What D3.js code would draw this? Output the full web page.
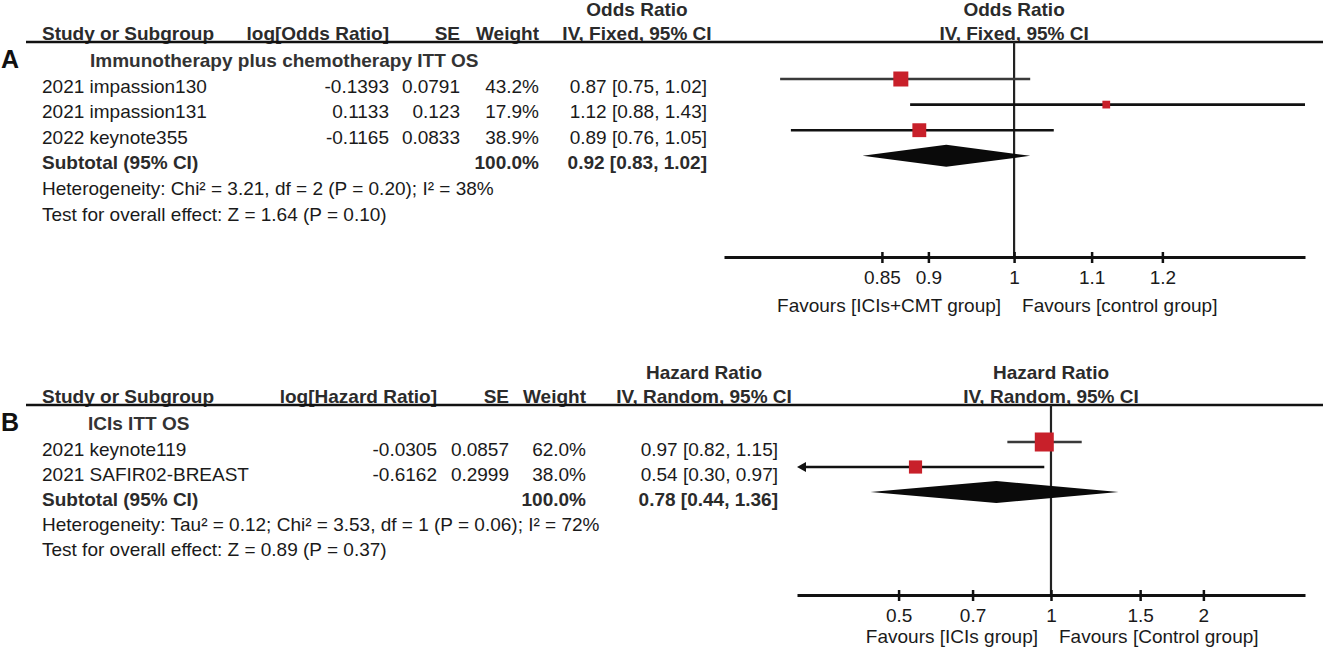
<!DOCTYPE html>
<html>
<head>
<meta charset="utf-8">
<script src="https://cdn.jsdelivr.net/npm/d3@7"></script>
<style>
body { margin: 0; background: #fff; }
text { font-family: "Liberation Sans", Arial, sans-serif; }
</style>
</head>
<body>
<svg width="1323" height="648"></svg>
<script>
// ---- panel A : odds ratio, fixed effect ----
const studiesA = ["2021 impassion130", "2021 impassion131", "2022 keynote355"];
const logA = [-0.1393, 0.1133, -0.1165];
const seA = [0.0791, 0.123, 0.0833];
const weightA = [43.2, 17.9, 38.9];
const estA = [0.87, 1.12, 0.89];
const loA = [0.75, 0.88, 0.76];
const hiA = [1.02, 1.43, 1.05];
const totalA = [0.92, 0.83, 1.02];
const ticksA = [0.85, 0.9, 1, 1.1, 1.2];
const favoursA = ["Favours [ICIs+CMT group]", "Favours [control group]"];
const notesA = ["Heterogeneity: Chi² = 3.21, df = 2 (P = 0.20); I² = 38%",
                "Test for overall effect: Z = 1.64 (P = 0.10)"];

// ---- panel B : hazard ratio, random effects ----
const studiesB = ["2021 keynote119", "2021 SAFIR02-BREAST"];
const logB = [-0.0305, -0.6162];
const seB = [0.0857, 0.2999];
const weightB = [62.0, 38.0];
const estB = [0.97, 0.54];
const loB = [0.82, 0.30];
const hiB = [1.15, 0.97];
const totalB = [0.78, 0.44, 1.36];
const ticksB = [0.5, 0.7, 1, 1.5, 2];
const favoursB = ["Favours [ICIs group]", "Favours [Control group]"];
const notesB = ["Heterogeneity: Tau² = 0.12; Chi² = 3.53, df = 1 (P = 0.06); I² = 72%",
                "Test for overall effect: Z = 0.89 (P = 0.37)"];

const svg = d3.select('svg');
const FS = 19;
const RED = '#c8202a';
const f2 = d3.format('.2f');

function ciText(e, l, h) {
  return `${f2(e)} [${f2(l)}, ${f2(h)}]`;
}

function drawPanel(p) {
  const g = svg.append('g').attr('transform', `translate(0, ${p.top})`);

  const x = d3.scaleLog().domain(p.domain).range(p.plotRange);
  const size = d3.scalePow().exponent(0.75)
    .domain([0, d3.max(p.weight)]).range([0, p.maxBox]);

  const rowY = i => 44 + p.rowH * i;
  const n = p.studies.length;

  const txt = (sel) => sel.attr('font-size', FS).attr('fill', '#1a1a1a');

  // panel letter
  g.append('text').text(p.letter)
    .attr('x', 1).attr('y', 17).attr('dy', '0.35em')
    .attr('font-size', 25).attr('font-weight', 'bold').attr('fill', '#111');

  // header lines
  const head = [
    { t: 'Study or Subgroup', x: 42, a: 'start' },
    { t: p.logHead, x: p.cols[0], a: 'end' },
    { t: 'SE', x: p.cols[1], a: 'end' },
    { t: 'Weight', x: p.cols[2], a: 'end' },
    { t: p.method, x: p.ciHead, a: 'middle' },
    { t: p.method, x: x(1), a: 'middle' }
  ];
  g.selectAll('.head').data(head).enter().append('text')
    .attr('class', 'head')
    .text(d => d.t).attr('x', d => d.x).attr('y', -2)
    .attr('text-anchor', d => d.a)
    .attr('font-size', FS).attr('font-weight', 'bold').attr('fill', '#2b2b2b');

  g.selectAll('.head2').data([p.ciHead, x(1)]).enter().append('text')
    .attr('class', 'head2')
    .text(p.measure).attr('x', d => d).attr('y', -26)
    .attr('text-anchor', 'middle')
    .attr('font-size', FS).attr('font-weight', 'bold').attr('fill', '#2b2b2b');

  // subgroup heading
  g.append('text').text(p.group)
    .attr('x', p.groupX).attr('y', 18).attr('dy', '0.35em')
    .attr('font-size', FS).attr('font-weight', 'bold').attr('fill', '#333');

  // study rows
  const rows = p.studies.map((s, i) => ({
    i, s, log: p.log[i], se: p.se[i], w: p.weight[i],
    e: p.est[i], l: p.lo[i], h: p.hi[i]
  }));

  const row = g.selectAll('.row').data(rows).enter().append('g')
    .attr('class', 'row')
    .attr('transform', d => `translate(0, ${rowY(d.i)})`);

  row.append('text').text(d => d.s).attr('x', 42).attr('dy', '0.35em').call(txt);
  row.append('text').text(d => String(d.log)).attr('x', p.cols[0])
    .attr('text-anchor', 'end').attr('dy', '0.35em').call(txt);
  row.append('text').text(d => String(d.se)).attr('x', p.cols[1])
    .attr('text-anchor', 'end').attr('dy', '0.35em').call(txt);
  row.append('text').text(d => d.w.toFixed(1) + '%').attr('x', p.cols[2])
    .attr('text-anchor', 'end').attr('dy', '0.35em').call(txt);
  row.append('text').text(d => ciText(d.e, d.l, d.h)).attr('x', p.cols[3])
    .attr('text-anchor', 'end').attr('dy', '0.35em').call(txt);

  // subtotal row
  const sy = rowY(n);
  const sub = g.append('g').attr('transform', `translate(0, ${sy})`);
  sub.append('text').text('Subtotal (95% CI)').attr('x', 42).attr('dy', '0.35em')
    .attr('font-size', FS).attr('font-weight', 'bold').attr('fill', '#2b2b2b');
  sub.append('text').text('100.0%').attr('x', p.cols[2]).attr('dy', '0.35em')
    .attr('text-anchor', 'end')
    .attr('font-size', FS).attr('font-weight', 'bold').attr('fill', '#2b2b2b');
  sub.append('text').text(ciText(p.total[0], p.total[1], p.total[2]))
    .attr('x', p.cols[3]).attr('dy', '0.35em').attr('text-anchor', 'end')
    .attr('font-size', FS).attr('font-weight', 'bold').attr('fill', '#2b2b2b');

  // notes
  g.selectAll('.note').data(p.notes).enter().append('text')
    .attr('class', 'note')
    .text(d => d).attr('x', 42)
    .attr('y', (d, i) => rowY(n + 1 + i)).attr('dy', '0.35em').call(txt);

  // rule under header
  g.append('line').attr('x1', 26).attr('x2', 1323).attr('y1', 0).attr('y2', 0)
    .attr('stroke', '#111').attr('stroke-width', 2.5);

  // null line
  g.append('line').attr('x1', x(1)).attr('x2', x(1)).attr('y1', 0).attr('y2', p.axisY)
    .attr('stroke', '#222').attr('stroke-width', 2.2);

  // confidence intervals
  const [dMin, dMax] = p.domain;
  const marks = g.selectAll('.ci').data(rows).enter().append('g')
    .attr('class', 'ci')
    .attr('transform', d => `translate(0, ${rowY(d.i) - 7})`);

  marks.append('line')
    .attr('x1', d => x(Math.max(d.l, dMin)) + (d.l < dMin ? 6 : 0))
    .attr('x2', d => x(Math.min(d.h, dMax)))
    .attr('stroke', d => d.i === 0 ? '#3a3a3a' : '#111')
    .attr('stroke-width', 2.6);

  marks.filter(d => d.l < dMin).append('path')
    .attr('d', () => {
      const x0 = x(dMin);
      return `M${x0},0 L${x0 + 9},-5 L${x0 + 9},5 Z`;
    })
    .attr('fill', '#111');

  marks.append('rect')
    .attr('x', d => x(d.e) - size(d.w) / 2)
    .attr('y', d => -size(d.w) / 2)
    .attr('width', d => size(d.w))
    .attr('height', d => size(d.w))
    .attr('fill', RED);

  // pooled diamond
  const dy = sy - 7;
  const [te, tl, th] = p.total;
  g.append('path')
    .attr('d', `M${x(tl)},${dy} L${x(te)},${dy - 11} L${x(th)},${dy} L${x(te)},${dy + 11} Z`)
    .attr('fill', '#0a0a0a');

  // axis
  const ax = g.append('g').attr('transform', `translate(0, ${p.axisY})`)
    .call(d3.axisBottom(x).tickValues(p.ticks).tickFormat(d3.format(''))
      .tickSize(6).tickPadding(8).tickSizeOuter(0));
  ax.select('.domain').attr('stroke', '#111').attr('stroke-width', 3);
  ax.selectAll('.tick line').attr('y1', -5).attr('y2', 6)
    .attr('stroke', '#111').attr('stroke-width', 2.5);
  ax.selectAll('.tick text').attr('font-size', FS).attr('fill', '#1a1a1a')
    .attr('font-family', '"Liberation Sans", Arial, sans-serif');

  // favours labels
  g.selectAll('.fav').data(p.favours).enter().append('text')
    .attr('class', 'fav')
    .text(d => d)
    .attr('x', (d, i) => i === 0 ? x(1) - 13 : x(1) + 8)
    .attr('y', p.axisY + p.favY).attr('dy', '0.35em')
    .attr('text-anchor', (d, i) => i === 0 ? 'end' : 'start')
    .call(txt);
}

drawPanel({
  letter: 'A', top: 42, rowH: 25.6, axisY: 215, favY: 48,
  measure: 'Odds Ratio', method: 'IV, Fixed, 95% CI', logHead: 'log[Odds Ratio]',
  group: 'Immunotherapy plus chemotherapy ITT OS', groupX: 90,
  cols: [389, 460, 539, 707], ciHead: 637,
  domain: [0.7, 1.43], plotRange: [724, 1305], maxBox: 15,
  studies: studiesA, log: logA, se: seA, weight: weightA,
  est: estA, lo: loA, hi: hiA, total: totalA,
  ticks: ticksA, favours: favoursA, notes: notesA
});

drawPanel({
  letter: 'B', top: 405, rowH: 25, axisY: 190, favY: 41,
  measure: 'Hazard Ratio', method: 'IV, Random, 95% CI', logHead: 'log[Hazard Ratio]',
  group: 'ICIs ITT OS', groupX: 88,
  cols: [437, 509, 586, 778], ciHead: 704,
  domain: [0.315, 3.175], plotRange: [797, 1305], maxBox: 19,
  studies: studiesB, log: logB, se: seB, weight: weightB,
  est: estB, lo: loB, hi: hiB, total: totalB,
  ticks: ticksB, favours: favoursB, notes: notesB
});
</script>
</body>
</html>
